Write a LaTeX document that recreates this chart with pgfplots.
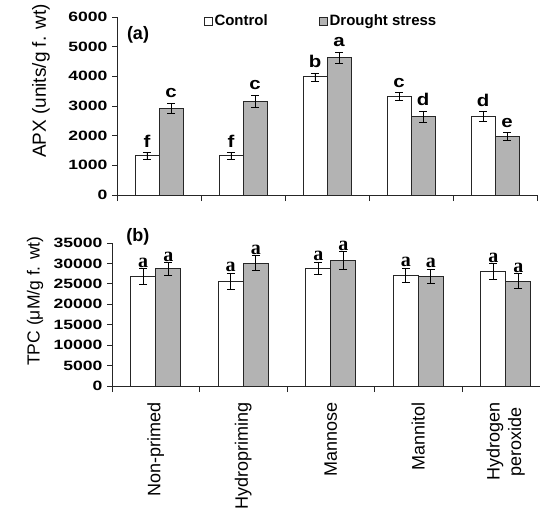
\documentclass[border=0pt]{standalone}
\usepackage{pgfplots}
\usepackage{pgfplotstable}
\pgfplotsset{compat=1.18}
\usepackage{fontspec}
\setmainfont{Liberation Sans}
\newfontfamily\tickfont[FakeStretch=1.3]{Liberation Sans Bold}
\newfontfamily\letfont[FakeStretch=1.2]{Liberation Sans Bold}
\newfontfamily\boldsans{Liberation Sans Bold}
\newfontfamily\serifb{Liberation Serif Bold}
\definecolor{barg}{RGB}{179,179,179}

% panel (a): bar positions (category -/+ half a bar), values, errors, letters
\pgfplotstableread{
xc xd c ce d de lc ld
-0.1429 0.1429 1320 110 2915 180 f c
0.8571 1.1429 1320 110 3165 200 f c
1.8571 2.1429 3980 135 4620 190 b a
2.8571 3.1429 3310 135 2640 185 c d
3.8571 4.1429 2640 165 1965 135 d e
}\apx

\pgfplotstableread{
xc xd c ce d de lc ld
-0.1429 0.1429 26800 1880 28700 1520 a a
0.8571 1.1429 25600 2050 30100 1760 a a
1.8571 2.1429 28800 1560 30700 2130 a a
2.8571 3.1429 27100 1760 26800 1760 a a
3.8571 4.1429 28000 2000 25700 1840 a a
}\tpc

\pgfplotsset{
  mybase/.style={
    scale only axis, xmin=-0.5, xmax=4.5, ymin=0,
    axis x line*=bottom, axis y line*=left,
    axis line style={black!85, line width=0.9pt},
    tick align=outside,
    major tick length=5pt, minor tick length=6pt,
    every tick/.style={black!85, line width=0.9pt},
    tick label style={font=\tickfont\fontsize{13.5}{15}\selectfont},
    yticklabel style={xshift=-1pt},
    /pgf/number format/assume math mode=true,
    /pgf/number format/1000 sep={},
    scaled y ticks=false,
    xtick={0,1,2,3,4}, minor xtick={-0.5,0.5,1.5,2.5,3.5,4.5},
    major x tick style={draw=none},
    clip=false,
    legend image code/.code={\draw[#1, line width=0.8pt] (0pt,-4pt) rectangle (8pt,4pt);},
  },
  barc/.style={ybar, bar shift=0pt, fill=white, draw=black!85, line width=0.9pt,
    error bars/.cd, y dir=both, y explicit,
    error bar style={black, line width=0.8pt},
    error mark options={rotate=90, mark size=4pt, line width=0.8pt, black}},
  bard/.style={ybar, bar shift=0pt, fill=barg, draw=black!85, line width=0.9pt,
    error bars/.cd, y dir=both, y explicit,
    error bar style={black, line width=0.8pt},
    error mark options={rotate=90, mark size=4pt, line width=0.8pt, black}},
}

\begin{document}
\begin{tikzpicture}[x=1pt,y=1pt]
\useasboundingbox (0,0) rectangle (540,507);

% ---------- panel (a) ----------
\begin{axis}[mybase,
  at={(117pt,312pt)}, anchor=south west,
  width=420pt, height=178pt,
  ymax=6000, ytick distance=1000,
  xticklabels={,,,,,},
  ylabel={APX (units/g f. wt)},
  ylabel style={at={(axis description cs:-0.181,0.64)}, anchor=center, font=\fontsize{19}{21}\selectfont},
  legend style={draw=none, fill=none, at={(axis description cs:0.2,0.978)}, anchor=west,
    legend columns=2, font=\boldsans\fontsize{15}{16}\selectfont,
    /tikz/every even column/.append style={column sep=50pt},
    nodes={inner sep=1.5pt}},
]
\addplot[bar width=24pt, barc] table[x=xc, y=c, y error=ce] {\apx};
\addlegendentry{Control}
\addplot[bar width=24pt, bard] table[x=xd, y=d, y error=de] {\apx};
\addlegendentry{Drought stress}
\addplot[draw=none, mark=none, forget plot, nodes near coords, point meta=explicit symbolic,
  every node near coord/.append style={anchor=south, inner sep=1pt, yshift=4pt,
  font=\letfont\fontsize{17}{18}\selectfont}]
  table[x=xc, y expr=\thisrow{c}+\thisrow{ce}, meta=lc] {\apx};
\addplot[draw=none, mark=none, forget plot, nodes near coords, point meta=explicit symbolic,
  every node near coord/.append style={anchor=south, inner sep=1pt, yshift=4pt,
  font=\letfont\fontsize{17}{18}\selectfont}]
  table[x=xd, y expr=\thisrow{d}+\thisrow{de}, meta=ld] {\apx};
\node[font=\boldsans\fontsize{18}{20}\selectfont] at (axis description cs:0.05,0.9) {(a)};
\end{axis}

% ---------- panel (b) ----------
\begin{axis}[mybase,
  at={(112pt,121pt)}, anchor=south west,
  width=437.5pt, height=143pt,
  ymax=35000, ytick distance=5000,
  xticklabels={Non-primed, Hydropriming, Mannose, Mannitol, {Hydrogen\\peroxide}},
  xticklabel style={rotate=90, anchor=east, align=center, font=\fontsize{18}{21.5}\selectfont},
  xticklabel shift=8pt,
  ylabel={TPC (μM/g f. wt)},
  ylabel style={at={(axis description cs:-0.176,0.594)}, anchor=center, font=\fontsize{17.5}{19}\selectfont},
]
\addplot[bar width=25pt, barc] table[x=xc, y=c, y error=ce] {\tpc};
\addplot[bar width=25pt, bard] table[x=xd, y=d, y error=de] {\tpc};
\addplot[draw=none, mark=none, forget plot, nodes near coords, point meta=explicit symbolic,
  every node near coord/.append style={anchor=south, inner sep=0.5pt, yshift=0.5pt,
  font=\serifb\fontsize{20}{21}\selectfont}]
  table[x=xc, y expr=\thisrow{c}+\thisrow{ce}, meta=lc] {\tpc};
\addplot[draw=none, mark=none, forget plot, nodes near coords, point meta=explicit symbolic,
  every node near coord/.append style={anchor=south, inner sep=0.5pt, yshift=0.5pt,
  font=\serifb\fontsize{20}{21}\selectfont}]
  table[x=xd, y expr=\thisrow{d}+\thisrow{de}, meta=ld] {\tpc};
\node[font=\boldsans\fontsize{18}{20}\selectfont] at (axis description cs:0.059,1.042) {(b)};
\end{axis}
\end{tikzpicture}
\end{document}
